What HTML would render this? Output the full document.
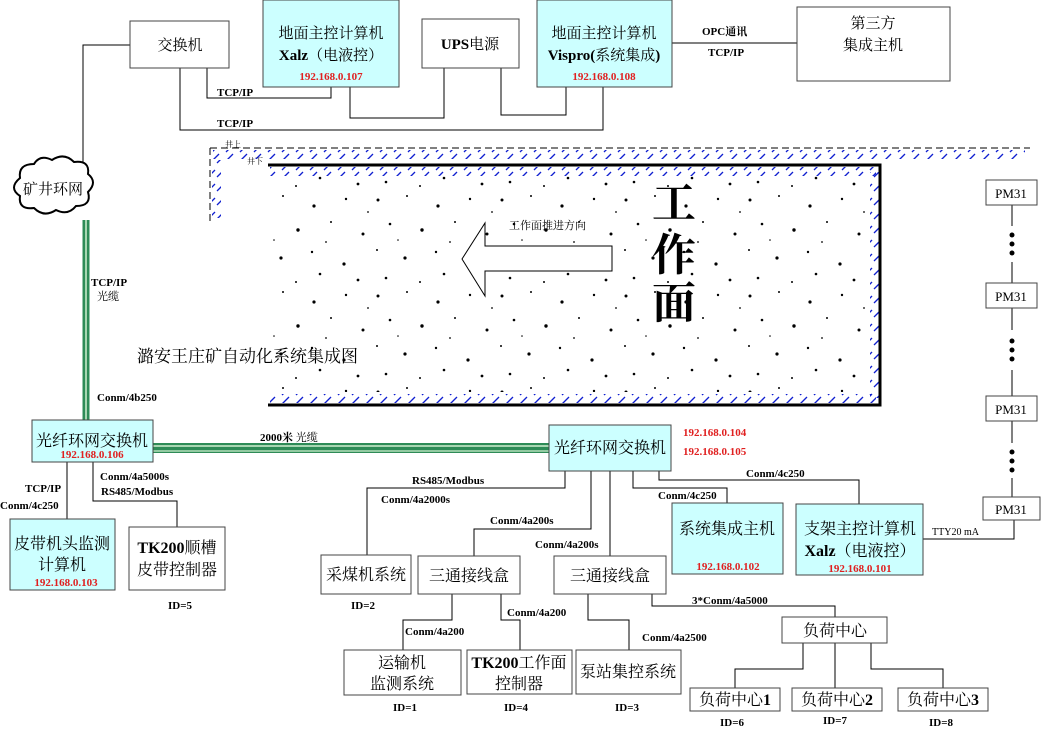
<!DOCTYPE html>
<html><head><meta charset="utf-8">
<style>
html,body{margin:0;padding:0;background:#fff}
svg{display:block}
text{font-family:"Liberation Serif","Noto Serif CJK SC",serif}
.b{font-weight:bold}
.r{fill:#e02020;font-weight:bold;font-size:11px}
.s{font-size:11px;font-weight:bold}
.t{font-size:15px}
</style></head><body>
<svg width="1041" height="730" viewBox="0 0 1041 730" xmlns="http://www.w3.org/2000/svg">
<defs>
<pattern id="h" width="14" height="9" patternUnits="userSpaceOnUse">
<line x1="2" y1="8" x2="9" y2="1" stroke="#1020d0" stroke-width="1.3"/>
</pattern>
<pattern id="hv" width="9" height="14" patternUnits="userSpaceOnUse">
<line x1="1" y1="9" x2="8" y2="2" stroke="#1020d0" stroke-width="1.3"/>
</pattern>
<pattern id="d" width="124" height="96" patternUnits="userSpaceOnUse">
<g fill="#000">
<circle cx="6" cy="8" r="1.5"/><circle cx="35" cy="4" r="1"/><circle cx="66" cy="14" r="1.6"/><circle cx="98" cy="7" r="1.2"/>
<circle cx="18" cy="32" r="1.3"/><circle cx="50" cy="38" r="1.7"/><circle cx="83" cy="30" r="1"/><circle cx="115" cy="42" r="1.5"/>
<circle cx="5" cy="58" r="1"/><circle cx="33" cy="66" r="1.6"/><circle cx="64" cy="60" r="1.2"/><circle cx="96" cy="72" r="1.6"/>
<circle cx="14" cy="86" r="1.3"/><circle cx="48" cy="90" r="1"/><circle cx="78" cy="50" r="0.9"/><circle cx="110" cy="88" r="1.4"/>
<circle cx="120" cy="20" r="0.9"/><circle cx="26" cy="48" r="0.8"/><circle cx="72" cy="82" r="1.3"/>
</g>
</pattern>
</defs>

<!-- workface area -->
<rect x="272" y="176" width="598" height="216" fill="url(#d)"/>
<line x1="210" y1="148" x2="1030" y2="148" stroke="#000" stroke-dasharray="7,4" stroke-width="1"/>
<line x1="210" y1="148" x2="210" y2="222" stroke="#000" stroke-dasharray="7,4" stroke-width="1"/>
<rect x="213" y="150" width="812" height="9" fill="url(#h)"/>
<rect x="212" y="160" width="9" height="58" fill="url(#hv)"/>
<rect x="270" y="167" width="606" height="9" fill="url(#h)"/>
<rect x="270" y="394" width="606" height="9" fill="url(#h)"/>
<rect x="870" y="172" width="9" height="226" fill="url(#hv)"/>
<polyline points="268,165 880,165 880,405 268,405" fill="none" stroke="#000" stroke-width="3"/>
<text x="225" y="147" font-size="8">井上</text>
<text x="247" y="164" font-size="8">井下</text>
<polygon points="485,223 485,246 612,246 612,271 485,271 485,296 462,259" fill="#fff" stroke="#000" stroke-width="1"/>
<text x="509" y="229" font-size="11">工作面推进方向</text>
<g font-size="44" font-weight="bold">
<text x="652" y="218">工</text>
<text x="652" y="270">作</text>
<text x="652" y="318">面</text>
</g>
<text x="137" y="362" font-size="17">潞安王庄矿自动化系统集成图</text>

<!-- top connectors -->
<g fill="none" stroke="#000" stroke-width="1">
<polyline points="207,68 207,98 331,98 331,87"/>
<polyline points="180,68 180,130 603,130 603,87"/>
<polyline points="350,87 350,118 444,118 444,68"/>
<polyline points="501,68 501,115 566,115 566,87"/>
<line x1="672" y1="43" x2="797" y2="43"/>
<polyline points="130,45 83,45 83,162"/>
</g>
<rect x="130" y="21" width="99" height="47" fill="#fff" stroke="#444"/>
<text x="180" y="50" class="t" text-anchor="middle">交换机</text>
<rect x="263" y="0" width="136" height="87" fill="#ccffff" stroke="#444"/>
<text x="331" y="38" class="t" text-anchor="middle">地面主控计算机</text>
<text x="331" y="60" class="t" text-anchor="middle"><tspan class="b">Xalz</tspan>（电液控）</text>
<text x="331" y="80" class="r" text-anchor="middle">192.168.0.107</text>
<rect x="422" y="19" width="97" height="49" fill="#fff" stroke="#444"/>
<text x="470" y="49" class="t" text-anchor="middle"><tspan class="b">UPS</tspan>电源</text>
<rect x="537" y="0" width="135" height="87" fill="#ccffff" stroke="#444"/>
<text x="604" y="38" class="t" text-anchor="middle">地面主控计算机</text>
<text x="604" y="60" class="t" text-anchor="middle"><tspan class="b">Vispro(</tspan>系统集成<tspan class="b">)</tspan></text>
<text x="604" y="80" class="r" text-anchor="middle">192.168.0.108</text>
<rect x="797" y="7" width="153" height="74" fill="#fff" stroke="#444"/>
<text x="873" y="28" class="t" text-anchor="middle">第三方</text>
<text x="873" y="50" class="t" text-anchor="middle">集成主机</text>
<text x="702" y="35" class="s">OPC通讯</text>
<text x="708" y="56" class="s">TCP/IP</text>
<text x="217" y="96" class="s">TCP/IP</text>
<text x="217" y="127" class="s">TCP/IP</text>

<!-- cloud -->
<path d="M20,178 q-2,-14 14,-14 q6,-10 18,-4 q12,-8 22,2 q16,-2 14,12 q10,8 0,18 q4,14 -12,14 q-8,10 -20,4 q-12,8 -22,-2 q-16,2 -14,-12 q-12,-8 0,-18 z" fill="#fff" stroke="#000" stroke-width="2"/>
<text x="53" y="194" class="t" text-anchor="middle">矿井环网</text>

<!-- green cables -->
<line x1="86" y1="220" x2="86" y2="421" stroke="#2e8b57" stroke-width="7"/>
<line x1="86" y1="220" x2="86" y2="421" stroke="#d0f0d0" stroke-width="1.5"/>
<line x1="153" y1="448" x2="549" y2="448" stroke="#2e8b57" stroke-width="10"/>
<line x1="153" y1="446" x2="549" y2="446" stroke="#d0f0d0" stroke-width="1.5"/>
<line x1="153" y1="451" x2="549" y2="451" stroke="#d0f0d0" stroke-width="1.2"/>
<text x="91" y="286" class="s">TCP/IP</text>
<text x="97" y="300" font-size="11">光缆</text>
<text x="97" y="401" class="s">Conm/4b250</text>
<text x="260" y="441" class="s">2000米 <tspan font-weight="normal">光缆</tspan></text>

<!-- left lower -->
<g fill="none" stroke="#000" stroke-width="1">
<line x1="67" y1="462" x2="67" y2="519"/>
<polyline points="93,462 93,501 177,501 177,527"/>
</g>
<rect x="32" y="420" width="121" height="42" fill="#ccffff" stroke="#444"/>
<text x="92" y="446" font-size="16" text-anchor="middle">光纤环网交换机</text>
<text x="92" y="458" class="r" text-anchor="middle">192.168.0.106</text>
<text x="25" y="492" class="s">TCP/IP</text>
<text x="0" y="509" class="s">Conm/4c250</text>
<text x="100" y="480" class="s">Conm/4a5000s</text>
<text x="101" y="495" class="s">RS485/Modbus</text>
<rect x="10" y="519" width="105" height="71" fill="#ccffff" stroke="#444"/>
<text x="62" y="549" font-size="16" text-anchor="middle">皮带机头监测</text>
<text x="62" y="570" font-size="16" text-anchor="middle">计算机</text>
<text x="66" y="586" class="r" text-anchor="middle">192.168.0.103</text>
<rect x="129" y="527" width="96" height="63" fill="#fff" stroke="#444"/>
<text x="177" y="553" font-size="16" text-anchor="middle"><tspan class="b">TK200</tspan>顺槽</text>
<text x="177" y="575" font-size="16" text-anchor="middle">皮带控制器</text>
<text x="168" y="609" class="s">ID=5</text>

<!-- right switch connectors -->
<g fill="none" stroke="#000" stroke-width="1">
<polyline points="565,471 565,488 367,488 367,555"/>
<polyline points="591,471 591,529 474,529 474,556"/>
<line x1="610" y1="471" x2="610" y2="556"/>
<polyline points="633,471 633,488 727,488 727,503"/>
<polyline points="659,471 659,480 859,480 859,504"/>
<polyline points="923,539 1014,539 1014,520"/>
<polyline points="452,594 452,620 403,620 403,650"/>
<polyline points="501,594 501,620 520,620 520,650"/>
<polyline points="588,594 588,620 629,620 629,650"/>
<polyline points="652,594 652,606 835,606 835,617"/>
<polyline points="803,643 803,669 735,669 735,688"/>
<line x1="835" y1="643" x2="835" y2="688"/>
<polyline points="871,643 871,669 943,669 943,688"/>
</g>
<rect x="549" y="425" width="122" height="46" fill="#ccffff" stroke="#444"/>
<text x="610" y="453" font-size="16" text-anchor="middle">光纤环网交换机</text>
<text x="683" y="436" class="r">192.168.0.104</text>
<text x="683" y="455" class="r">192.168.0.105</text>
<text x="412" y="484" class="s">RS485/Modbus</text>
<text x="381" y="503" class="s">Conm/4a2000s</text>
<text x="490" y="524" class="s">Conm/4a200s</text>
<text x="535" y="548" class="s">Conm/4a200s</text>
<text x="658" y="499" class="s">Conm/4c250</text>
<text x="746" y="477" class="s">Conm/4c250</text>
<text x="932" y="535" font-size="10" font-family="Liberation Mono,monospace">TTY20 mA</text>

<rect x="672" y="503" width="111" height="71" fill="#ccffff" stroke="#444"/>
<text x="727" y="534" font-size="16" text-anchor="middle">系统集成主机</text>
<text x="728" y="570" class="r" text-anchor="middle">192.168.0.102</text>
<rect x="796" y="504" width="127" height="71" fill="#ccffff" stroke="#444"/>
<text x="860" y="534" font-size="16" text-anchor="middle">支架主控计算机</text>
<text x="860" y="556" font-size="16" text-anchor="middle"><tspan class="b">Xalz</tspan>（电液控）</text>
<text x="860" y="572" class="r" text-anchor="middle">192.168.0.101</text>

<!-- PM31 chain -->
<g stroke="#000" stroke-width="1">
<line x1="1012" y1="205" x2="1012" y2="226"/>
<line x1="1012" y1="262" x2="1012" y2="283"/>
<line x1="1012" y1="308" x2="1012" y2="330"/>
<line x1="1012" y1="370" x2="1012" y2="396"/>
<line x1="1012" y1="421" x2="1012" y2="443"/>
<line x1="1012" y1="478" x2="1012" y2="497"/>
</g>
<g fill="#000">
<circle cx="1012" cy="235" r="2.5"/><circle cx="1012" cy="244" r="2.5"/><circle cx="1012" cy="253" r="2.5"/>
<circle cx="1012" cy="341" r="2.5"/><circle cx="1012" cy="350" r="2.5"/><circle cx="1012" cy="359" r="2.5"/>
<circle cx="1012" cy="452" r="2.5"/><circle cx="1012" cy="461" r="2.5"/><circle cx="1012" cy="470" r="2.5"/>
</g>
<g fill="#fff" stroke="#444">
<rect x="986" y="180" width="51" height="25"/>
<rect x="986" y="283" width="51" height="25"/>
<rect x="986" y="396" width="51" height="25"/>
<rect x="983" y="497" width="57" height="23"/>
</g>
<g font-family="Liberation Mono,monospace" font-size="13" text-anchor="middle">
<text x="1011" y="198">PM31</text>
<text x="1011" y="301">PM31</text>
<text x="1011" y="414">PM31</text>
<text x="1011" y="514">PM31</text>
</g>

<!-- lower boxes -->
<g fill="#fff" stroke="#444">
<rect x="321" y="555" width="90" height="39"/>
<rect x="418" y="556" width="102" height="38"/>
<rect x="554" y="556" width="112" height="38"/>
<rect x="344" y="650" width="117" height="45"/>
<rect x="467" y="650" width="105" height="44"/>
<rect x="576" y="650" width="105" height="44"/>
<rect x="782" y="617" width="105" height="26"/>
<rect x="690" y="688" width="90" height="23"/>
<rect x="792" y="688" width="90" height="23"/>
<rect x="898" y="688" width="90" height="23"/>
</g>
<g font-size="16" text-anchor="middle">
<text x="366" y="580">采煤机系统</text>
<text x="469" y="581">三通接线盒</text>
<text x="610" y="581">三通接线盒</text>
<text x="402" y="668">运输机</text>
<text x="402" y="689">监测系统</text>
<text x="519" y="668"><tspan class="b">TK200</tspan>工作面</text>
<text x="519" y="689">控制器</text>
<text x="628" y="677">泵站集控系统</text>
<text x="835" y="636">负荷中心</text>
<text x="735" y="705">负荷中心<tspan class="b">1</tspan></text>
<text x="837" y="705">负荷中心<tspan class="b">2</tspan></text>
<text x="943" y="705">负荷中心<tspan class="b">3</tspan></text>
</g>
<text x="405" y="635" class="s">Conm/4a200</text>
<text x="507" y="616" class="s">Conm/4a200</text>
<text x="642" y="641" class="s">Conm/4a2500</text>
<text x="692" y="604" class="s">3*Conm/4a5000</text>
<g class="s" text-anchor="middle">
<text x="363" y="609">ID=2</text>
<text x="405" y="711">ID=1</text>
<text x="516" y="711">ID=4</text>
<text x="627" y="711">ID=3</text>
<text x="732" y="726">ID=6</text>
<text x="835" y="724">ID=7</text>
<text x="941" y="726">ID=8</text>
</g>
</svg>
</body></html>
